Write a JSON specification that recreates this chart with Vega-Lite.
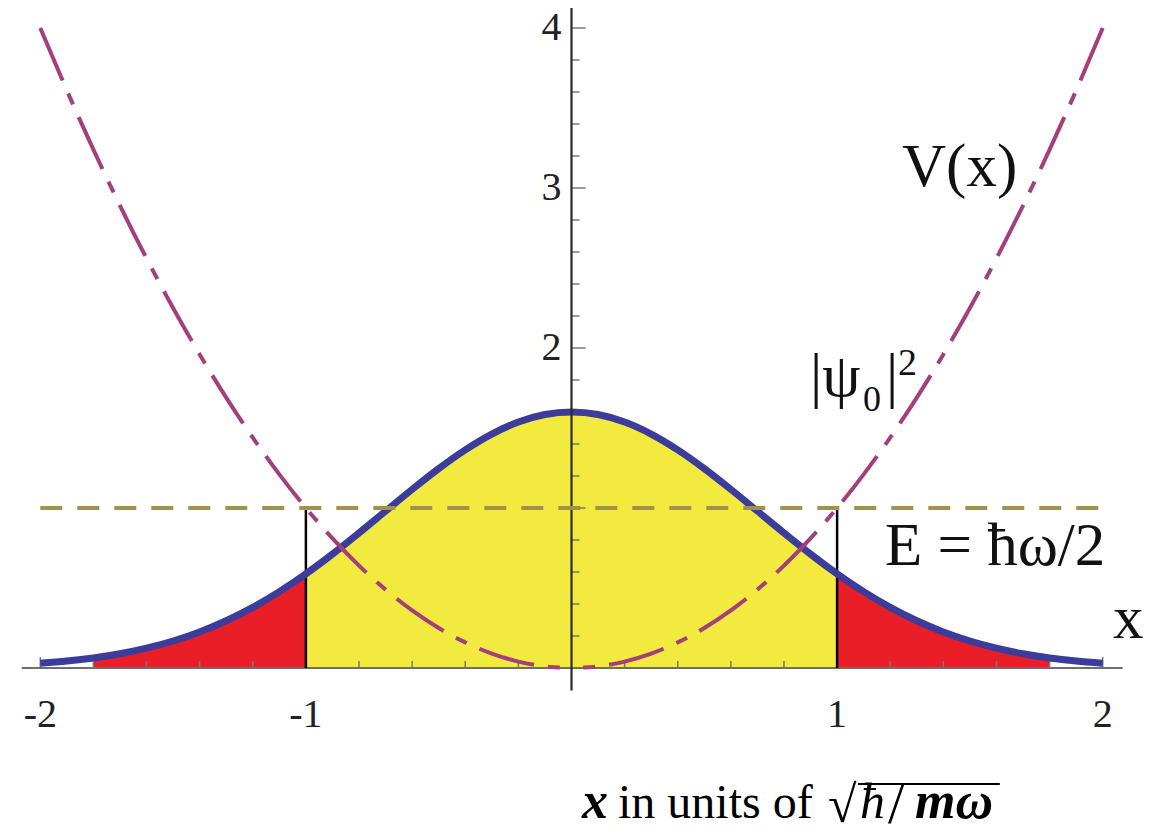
{
  "$schema": "https://vega.github.io/schema/vega-lite/v6.json",
  "width": 1149,
  "height": 839,
  "padding": 0,
  "autosize": {"type": "none"},
  "background": "white",
  "config": {"view": {"stroke": null}},
  "datasets": {
    "curve": [
      {"x": -2.0, "psi": 0.0293, "V": 4.00},
      {"x": -1.9, "psi": 0.0433, "V": 3.61},
      {"x": -1.8, "psi": 0.0627, "V": 3.24},
      {"x": -1.7, "psi": 0.0889, "V": 2.89},
      {"x": -1.6, "psi": 0.1237, "V": 2.56},
      {"x": -1.5, "psi": 0.1686, "V": 2.25},
      {"x": -1.4, "psi": 0.2254, "V": 1.96},
      {"x": -1.3, "psi": 0.2952, "V": 1.69},
      {"x": -1.2, "psi": 0.3791, "V": 1.44},
      {"x": -1.1, "psi": 0.4771, "V": 1.21},
      {"x": -1.0, "psi": 0.5886, "V": 1.00},
      {"x": -0.9, "psi": 0.7118, "V": 0.81},
      {"x": -0.8, "psi": 0.8437, "V": 0.64},
      {"x": -0.7, "psi": 0.9802, "V": 0.49},
      {"x": -0.6, "psi": 1.1163, "V": 0.36},
      {"x": -0.5, "psi": 1.2461, "V": 0.25},
      {"x": -0.4, "psi": 1.3634, "V": 0.16},
      {"x": -0.3, "psi": 1.4623, "V": 0.09},
      {"x": -0.2, "psi": 1.5373, "V": 0.04},
      {"x": -0.1, "psi": 1.5841, "V": 0.01},
      {"x": 0.0, "psi": 1.6000, "V": 0.00},
      {"x": 0.1, "psi": 1.5841, "V": 0.01},
      {"x": 0.2, "psi": 1.5373, "V": 0.04},
      {"x": 0.3, "psi": 1.4623, "V": 0.09},
      {"x": 0.4, "psi": 1.3634, "V": 0.16},
      {"x": 0.5, "psi": 1.2461, "V": 0.25},
      {"x": 0.6, "psi": 1.1163, "V": 0.36},
      {"x": 0.7, "psi": 0.9802, "V": 0.49},
      {"x": 0.8, "psi": 0.8437, "V": 0.64},
      {"x": 0.9, "psi": 0.7118, "V": 0.81},
      {"x": 1.0, "psi": 0.5886, "V": 1.00},
      {"x": 1.1, "psi": 0.4771, "V": 1.21},
      {"x": 1.2, "psi": 0.3791, "V": 1.44},
      {"x": 1.3, "psi": 0.2952, "V": 1.69},
      {"x": 1.4, "psi": 0.2254, "V": 1.96},
      {"x": 1.5, "psi": 0.1686, "V": 2.25},
      {"x": 1.6, "psi": 0.1237, "V": 2.56},
      {"x": 1.7, "psi": 0.0889, "V": 2.89},
      {"x": 1.8, "psi": 0.0627, "V": 3.24},
      {"x": 1.9, "psi": 0.0433, "V": 3.61},
      {"x": 2.0, "psi": 0.0293, "V": 4.00}
    ],
    "energy": [
      {"x": -2, "E": 1},
      {"x": 2, "E": 1}
    ],
    "turning": [
      {"x": -1, "lo": 0, "E": 1},
      {"x": 1, "lo": 0, "E": 1}
    ],
    "axes": [
      {"axis": "x", "from": -2.07, "to": 2.075, "at": 0},
      {"axis": "y", "from": -0.14, "to": 4.125, "at": 0}
    ],
    "ticks": [
      {"axis": "x", "v": -2.0, "at": 0, "major": true},
      {"axis": "x", "v": -1.8, "at": 0, "major": false},
      {"axis": "x", "v": -1.6, "at": 0, "major": false},
      {"axis": "x", "v": -1.4, "at": 0, "major": false},
      {"axis": "x", "v": -1.2, "at": 0, "major": false},
      {"axis": "x", "v": -1.0, "at": 0, "major": true},
      {"axis": "x", "v": -0.8, "at": 0, "major": false},
      {"axis": "x", "v": -0.6, "at": 0, "major": false},
      {"axis": "x", "v": -0.4, "at": 0, "major": false},
      {"axis": "x", "v": -0.2, "at": 0, "major": false},
      {"axis": "x", "v": 0.2, "at": 0, "major": false},
      {"axis": "x", "v": 0.4, "at": 0, "major": false},
      {"axis": "x", "v": 0.6, "at": 0, "major": false},
      {"axis": "x", "v": 0.8, "at": 0, "major": false},
      {"axis": "x", "v": 1.0, "at": 0, "major": true},
      {"axis": "x", "v": 1.2, "at": 0, "major": false},
      {"axis": "x", "v": 1.4, "at": 0, "major": false},
      {"axis": "x", "v": 1.6, "at": 0, "major": false},
      {"axis": "x", "v": 1.8, "at": 0, "major": false},
      {"axis": "x", "v": 2.0, "at": 0, "major": true},
      {"axis": "y", "v": 0.2, "at": 0, "major": false},
      {"axis": "y", "v": 0.4, "at": 0, "major": false},
      {"axis": "y", "v": 0.6, "at": 0, "major": false},
      {"axis": "y", "v": 0.8, "at": 0, "major": false},
      {"axis": "y", "v": 1.0, "at": 0, "major": true},
      {"axis": "y", "v": 1.2, "at": 0, "major": false},
      {"axis": "y", "v": 1.4, "at": 0, "major": false},
      {"axis": "y", "v": 1.6, "at": 0, "major": false},
      {"axis": "y", "v": 1.8, "at": 0, "major": false},
      {"axis": "y", "v": 2.0, "at": 0, "major": true},
      {"axis": "y", "v": 2.2, "at": 0, "major": false},
      {"axis": "y", "v": 2.4, "at": 0, "major": false},
      {"axis": "y", "v": 2.6, "at": 0, "major": false},
      {"axis": "y", "v": 2.8, "at": 0, "major": false},
      {"axis": "y", "v": 3.0, "at": 0, "major": true},
      {"axis": "y", "v": 3.2, "at": 0, "major": false},
      {"axis": "y", "v": 3.4, "at": 0, "major": false},
      {"axis": "y", "v": 3.6, "at": 0, "major": false},
      {"axis": "y", "v": 3.8, "at": 0, "major": false},
      {"axis": "y", "v": 4.0, "at": 0, "major": true}
    ],
    "ticklabels": [
      {"axis": "x", "v": -2, "at": 0, "text": "-2"},
      {"axis": "x", "v": -1, "at": 0, "text": "-1"},
      {"axis": "x", "v": 1, "at": 0, "text": "1"},
      {"axis": "x", "v": 2, "at": 0, "text": "2"},
      {"axis": "y", "v": 2, "at": 0, "text": "2"},
      {"axis": "y", "v": 3, "at": 0, "text": "3"},
      {"axis": "y", "v": 4, "at": 0, "text": "4"}
    ],
    "notes": [
      {"kind": "big", "x": 1.2444, "y": 3.0125, "text": "V(x)"},
      {"kind": "big", "x": 1.1803, "y": 0.6438, "text": "E = ħω/2"},
      {"kind": "big", "x": 2.0388, "y": 0.1875, "text": "x"},
      {"kind": "big", "x": 0.898, "y": 1.7, "text": "|ψ"},
      {"kind": "big", "x": 1.1841, "y": 1.7, "text": "|"},
      {"kind": "sub", "x": 1.0975, "y": 1.6063, "text": "0"},
      {"kind": "sup", "x": 1.2293, "y": 1.8313, "text": "2"},
      {"kind": "bolditalic", "x": 0.0395, "y": -0.9375, "text": "x"},
      {"kind": "roman", "x": 0.1751, "y": -0.9375, "text": "in units of"},
      {"kind": "root", "x": 0.9657, "y": -0.9375, "text": "√"},
      {"kind": "italic", "x": 1.0862, "y": -0.9375, "text": "ħ"},
      {"kind": "slash", "x": 1.1917, "y": -0.9375, "text": "/"},
      {"kind": "bolditalic", "x": 1.2933, "y": -0.9375, "text": "mω"}
    ],
    "vinculum": [
      {"from": 1.0787, "to": 1.6126, "y": -0.725}
    ]
  },
  "layer": [
    {
      "data": {"name": "curve"},
      "transform": [{"filter": "datum.x >= -1 && datum.x <= 1"}],
      "mark": {"type": "area", "color": "#f2ea3e", "interpolate": "monotone"},
      "encoding": {
        "x": {"field": "x", "type": "quantitative", "scale": {"domain": [-2.1517, 2.1743], "nice": false, "zero": false}, "axis": null},
        "y": {"field": "psi", "type": "quantitative", "scale": {"domain": [-1.06875, 4.175], "nice": false, "zero": false}, "axis": null}
      }
    },
    {
      "data": {"name": "curve"},
      "transform": [{"filter": "datum.x >= -1.8 && datum.x <= -1"}],
      "mark": {"type": "area", "color": "#e91e27", "interpolate": "monotone"},
      "encoding": {
        "x": {"field": "x", "type": "quantitative", "axis": null},
        "y": {"field": "psi", "type": "quantitative", "axis": null}
      }
    },
    {
      "data": {"name": "curve"},
      "transform": [{"filter": "datum.x >= 1 && datum.x <= 1.8"}],
      "mark": {"type": "area", "color": "#e91e27", "interpolate": "monotone"},
      "encoding": {
        "x": {"field": "x", "type": "quantitative", "axis": null},
        "y": {"field": "psi", "type": "quantitative", "axis": null}
      }
    },
    {
      "data": {"name": "ticks"},
      "transform": [{"filter": "datum.axis === 'x' && !datum.major"}],
      "mark": {"type": "rule", "color": "#777777", "strokeWidth": 1.5, "y2Offset": -7},
      "encoding": {
        "x": {"field": "v", "type": "quantitative", "axis": null},
        "y": {"field": "at", "type": "quantitative", "axis": null},
        "y2": {"field": "at"}
      }
    },
    {
      "data": {"name": "ticks"},
      "transform": [{"filter": "datum.axis === 'x' && datum.major"}],
      "mark": {"type": "rule", "color": "#777777", "strokeWidth": 1.5, "y2Offset": -11},
      "encoding": {
        "x": {"field": "v", "type": "quantitative", "axis": null},
        "y": {"field": "at", "type": "quantitative", "axis": null},
        "y2": {"field": "at"}
      }
    },
    {
      "data": {"name": "ticks"},
      "transform": [{"filter": "datum.axis === 'y' && !datum.major"}],
      "mark": {"type": "rule", "color": "#777777", "strokeWidth": 1.5, "x2Offset": 8},
      "encoding": {
        "y": {"field": "v", "type": "quantitative", "axis": null},
        "x": {"field": "at", "type": "quantitative", "axis": null},
        "x2": {"field": "at"}
      }
    },
    {
      "data": {"name": "ticks"},
      "transform": [{"filter": "datum.axis === 'y' && datum.major"}],
      "mark": {"type": "rule", "color": "#777777", "strokeWidth": 1.5, "x2Offset": 14},
      "encoding": {
        "y": {"field": "v", "type": "quantitative", "axis": null},
        "x": {"field": "at", "type": "quantitative", "axis": null},
        "x2": {"field": "at"}
      }
    },
    {
      "data": {"name": "axes"},
      "transform": [{"filter": "datum.axis === 'x'"}],
      "mark": {"type": "rule", "color": "#6e6e6e", "strokeWidth": 2},
      "encoding": {
        "x": {"field": "from", "type": "quantitative", "axis": null},
        "x2": {"field": "to"},
        "y": {"field": "at", "type": "quantitative", "axis": null}
      }
    },
    {
      "data": {"name": "turning"},
      "mark": {"type": "rule", "color": "#000000", "strokeWidth": 2.5},
      "encoding": {
        "x": {"field": "x", "type": "quantitative", "axis": null},
        "y": {"field": "lo", "type": "quantitative", "axis": null},
        "y2": {"field": "E"}
      }
    },
    {
      "data": {"name": "curve"},
      "mark": {"type": "line", "color": "#3c3c9b", "strokeWidth": 7, "interpolate": "monotone", "strokeCap": "butt"},
      "encoding": {
        "x": {"field": "x", "type": "quantitative", "axis": null},
        "y": {"field": "psi", "type": "quantitative", "axis": null}
      }
    },
    {
      "data": {"name": "curve"},
      "transform": [{"filter": "datum.x <= 0"}],
      "mark": {"type": "line", "color": "#a23f7c", "strokeWidth": 4, "interpolate": "monotone", "strokeDash": [57, 14, 12, 14]},
      "encoding": {
        "x": {"field": "x", "type": "quantitative", "axis": null},
        "y": {"field": "V", "type": "quantitative", "axis": null},
        "order": {"field": "V", "sort": "descending"}
      }
    },
    {
      "data": {"name": "curve"},
      "transform": [{"filter": "datum.x >= 0"}],
      "mark": {"type": "line", "color": "#a23f7c", "strokeWidth": 4, "interpolate": "monotone", "strokeDash": [57, 14, 12, 14]},
      "encoding": {
        "x": {"field": "x", "type": "quantitative", "axis": null},
        "y": {"field": "V", "type": "quantitative", "axis": null},
        "order": {"field": "V", "sort": "descending"}
      }
    },
    {
      "data": {"name": "axes"},
      "transform": [{"filter": "datum.axis === 'y'"}],
      "mark": {"type": "rule", "color": "#2a2a2a", "strokeWidth": 2.2},
      "encoding": {
        "y": {"field": "from", "type": "quantitative", "axis": null},
        "y2": {"field": "to"},
        "x": {"field": "at", "type": "quantitative", "axis": null}
      }
    },
    {
      "data": {"name": "energy"},
      "mark": {"type": "line", "color": "#a2914a", "strokeWidth": 4, "strokeDash": [22, 15]},
      "encoding": {
        "x": {"field": "x", "type": "quantitative", "axis": null},
        "y": {"field": "E", "type": "quantitative", "axis": null}
      }
    },
    {
      "data": {"name": "ticklabels"},
      "transform": [{"filter": "datum.axis === 'x'"}],
      "mark": {"type": "text", "font": "Liberation Serif", "fontSize": 40, "color": "#222222", "align": "center", "baseline": "alphabetic", "dy": 59},
      "encoding": {
        "x": {"field": "v", "type": "quantitative", "axis": null},
        "y": {"field": "at", "type": "quantitative", "axis": null},
        "text": {"field": "text"}
      }
    },
    {
      "data": {"name": "ticklabels"},
      "transform": [{"filter": "datum.axis === 'y'"}],
      "mark": {"type": "text", "font": "Liberation Serif", "fontSize": 40, "color": "#222222", "align": "right", "baseline": "middle", "dx": -10},
      "encoding": {
        "y": {"field": "v", "type": "quantitative", "axis": null},
        "x": {"field": "at", "type": "quantitative", "axis": null},
        "text": {"field": "text"}
      }
    },
    {
      "data": {"name": "notes"},
      "transform": [{"filter": "datum.kind === 'big'"}],
      "mark": {"type": "text", "font": "Liberation Serif", "fontSize": 61, "color": "#111111", "align": "left", "baseline": "alphabetic"},
      "encoding": {
        "x": {"field": "x", "type": "quantitative", "axis": null},
        "y": {"field": "y", "type": "quantitative", "axis": null},
        "text": {"field": "text"}
      }
    },
    {
      "data": {"name": "notes"},
      "transform": [{"filter": "datum.kind === 'sub'"}],
      "mark": {"type": "text", "font": "Liberation Serif", "fontSize": 36, "color": "#111111", "align": "left", "baseline": "alphabetic"},
      "encoding": {
        "x": {"field": "x", "type": "quantitative", "axis": null},
        "y": {"field": "y", "type": "quantitative", "axis": null},
        "text": {"field": "text"}
      }
    },
    {
      "data": {"name": "notes"},
      "transform": [{"filter": "datum.kind === 'sup'"}],
      "mark": {"type": "text", "font": "Liberation Serif", "fontSize": 38, "color": "#111111", "align": "left", "baseline": "alphabetic"},
      "encoding": {
        "x": {"field": "x", "type": "quantitative", "axis": null},
        "y": {"field": "y", "type": "quantitative", "axis": null},
        "text": {"field": "text"}
      }
    },
    {
      "data": {"name": "notes"},
      "transform": [{"filter": "datum.kind === 'roman'"}],
      "mark": {"type": "text", "font": "Liberation Serif", "fontSize": 48, "color": "#000000", "align": "left", "baseline": "alphabetic"},
      "encoding": {
        "x": {"field": "x", "type": "quantitative", "axis": null},
        "y": {"field": "y", "type": "quantitative", "axis": null},
        "text": {"field": "text"}
      }
    },
    {
      "data": {"name": "notes"},
      "transform": [{"filter": "datum.kind === 'italic'"}],
      "mark": {"type": "text", "font": "Liberation Serif", "fontSize": 50, "fontStyle": "italic", "color": "#000000", "align": "left", "baseline": "alphabetic"},
      "encoding": {
        "x": {"field": "x", "type": "quantitative", "axis": null},
        "y": {"field": "y", "type": "quantitative", "axis": null},
        "text": {"field": "text"}
      }
    },
    {
      "data": {"name": "notes"},
      "transform": [{"filter": "datum.kind === 'slash'"}],
      "mark": {"type": "text", "font": "Liberation Serif", "fontSize": 58, "color": "#000000", "align": "left", "baseline": "alphabetic", "dy": 5},
      "encoding": {
        "x": {"field": "x", "type": "quantitative", "axis": null},
        "y": {"field": "y", "type": "quantitative", "axis": null},
        "text": {"field": "text"}
      }
    },
    {
      "data": {"name": "notes"},
      "transform": [{"filter": "datum.kind === 'bolditalic'"}],
      "mark": {"type": "text", "font": "Liberation Serif", "fontSize": 52, "fontStyle": "italic", "fontWeight": "bold", "color": "#000000", "align": "left", "baseline": "alphabetic"},
      "encoding": {
        "x": {"field": "x", "type": "quantitative", "axis": null},
        "y": {"field": "y", "type": "quantitative", "axis": null},
        "text": {"field": "text"}
      }
    },
    {
      "data": {"name": "notes"},
      "transform": [{"filter": "datum.kind === 'root'"}],
      "mark": {"type": "text", "font": "Liberation Serif", "fontSize": 52, "color": "#000000", "align": "left", "baseline": "alphabetic", "dy": 4},
      "encoding": {
        "x": {"field": "x", "type": "quantitative", "axis": null},
        "y": {"field": "y", "type": "quantitative", "axis": null},
        "text": {"field": "text"}
      }
    },
    {
      "data": {"name": "vinculum"},
      "mark": {"type": "rule", "color": "#000000", "strokeWidth": 2},
      "encoding": {
        "x": {"field": "from", "type": "quantitative", "axis": null},
        "x2": {"field": "to"},
        "y": {"field": "y", "type": "quantitative", "axis": null}
      }
    }
  ]
}
